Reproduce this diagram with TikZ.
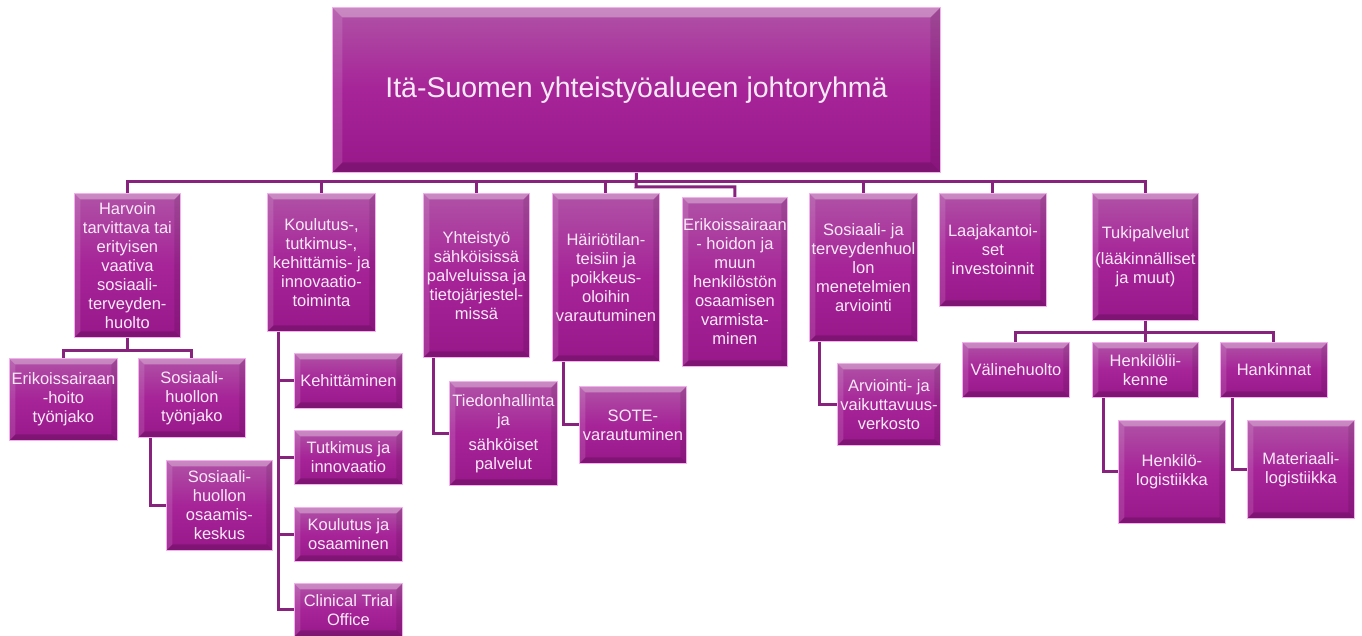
\documentclass[tikz,border=0pt]{standalone}
\usepackage{fontspec}
\setmainfont{Liberation Sans}
\definecolor{boxtop}{RGB}{176,82,166}
\definecolor{boxmid}{RGB}{166,36,152}
\definecolor{boxbot}{RGB}{152,24,138}
\definecolor{connc}{RGB}{135,35,125}
\definecolor{txtc}{RGB}{250,234,248}
\definecolor{edgec}{RGB}{244,176,238}
\tikzset{
  bevel/.store in=\bevelw, bevel=6pt,
  orgbox/.style={rectangle, inner xsep=0pt, inner ysep=2pt, top color=boxtop, bottom color=boxbot, middle color=boxmid,
    draw=edgec, line width=0.9pt, text=txtc, align=center, anchor=north west,
    font=\fontsize{16.5}{19}\selectfont,
    path picture={
      \coordinate (pNW) at (path picture bounding box.north west);
      \coordinate (pNE) at (path picture bounding box.north east);
      \coordinate (pSW) at (path picture bounding box.south west);
      \coordinate (pSE) at (path picture bounding box.south east);
      \fill[white,opacity=.32] (pNW) -- (pNE) -- ([shift={(-\bevelw,-\bevelw)}]pNE) -- ([shift={(\bevelw,-\bevelw)}]pNW) -- cycle;
      \fill[white,opacity=.12] (pNW) -- ([shift={(\bevelw,-\bevelw)}]pNW) -- ([shift={(\bevelw,\bevelw)}]pSW) -- (pSW) -- cycle;
      \fill[black,opacity=.10] (pNE) -- (pSE) -- ([shift={(-\bevelw,\bevelw)}]pSE) -- ([shift={(-\bevelw,-\bevelw)}]pNE) -- cycle;
      \fill[black,opacity=.16] (pSW) -- (pSE) -- ([shift={(-\bevelw,\bevelw)}]pSE) -- ([shift={(\bevelw,\bevelw)}]pSW) -- cycle;
    }},
  conn/.style={draw=connc, line width=3pt}
}
\newcommand{\bx}[6]{\node[orgbox, minimum width=#3pt, minimum height=#4pt] (#5) at (#1,#2) {#6};}
\begin{document}
\begin{tikzpicture}[x=1pt,y=-1pt]
\fill[white] (0,0) rectangle (1362,636);
\useasboundingbox (0,0) rectangle (1362,636);

\coordinate (bus) at (636,182);
\coordinate (busE) at (636,187);

% top
\node[orgbox, bevel=10pt, minimum width=608pt, minimum height=165pt, font=\fontsize{28.5}{32}\selectfont] (top) at (332,7) {Itä-Suomen yhteistyöalueen johtoryhmä};

% level 1
\bx{74}{193}{106}{144}{n1}{Harvoin\\tarvittava tai\\erityisen\\vaativa\\sosiaali-\\terveyden-\\huolto}
\bx{267}{193}{108}{138}{n2}{Koulutus-,\\tutkimus-,\\kehittämis- ja\\innovaatio-\\toiminta}
\bx{423}{193}{106}{164}{n3}{Yhteistyö\\sähköisissä\\palveluissa ja\\tietojärjestel-\\missä}
\bx{552}{193}{107}{168}{n4}{Häiriötilan-\\teisiin ja\\poikkeus-\\oloihin\\varautuminen}
\bx{682}{197}{105}{169}{n5}{Erikoissairaan\\- hoidon ja\\muun\\henkilöstön\\osaamisen\\varmista-\\minen}
\bx{809}{193}{108}{148}{n6}{Sosiaali- ja\\terveydenhuol\\lon\\menetelmien\\arviointi}
\bx{939}{193}{107}{113}{n7}{Laajakantoi-\\set\\investoinnit}
\bx{1092}{193}{106}{127}{n8}{Tukipalvelut\\[7pt](lääkinnälliset\\ja muut)}

% level 2
\bx{9}{358}{108}{82}{e1}{Erikoissairaan\\-hoito\\työnjako}
\bx{138}{358}{107}{79}{s2}{Sosiaali-\\huollon\\työnjako}
\bx{166}{460}{106}{90}{s3}{Sosiaali-\\huollon\\osaamis-\\keskus}

\bx{294}{353}{108}{55}{k1}{Kehittäminen}
\bx{294}{430}{108}{54}{k2}{Tutkimus ja\\innovaatio}
\bx{294}{507}{108}{54}{k3}{Koulutus ja\\osaaminen}
\bx{294}{583}{108}{53}{k4}{Clinical Trial\\Office}

\bx{449}{381}{108}{104}{y1}{Tiedonhallinta\\ja\\[6pt]sähköiset\\palvelut}
\bx{579}{386}{107}{77}{h1}{SOTE-\\varautuminen}
\bx{837}{363}{103}{82}{a1}{Arviointi- ja\\vaikuttavuus-\\verkosto}

\bx{962}{342}{107}{55}{t1}{Välinehuolto}
\bx{1092}{342}{106}{55}{t2}{Henkilölii-\\kenne}
\bx{1220}{342}{107}{55}{t3}{Hankinnat}
\bx{1118}{420}{107}{103}{t4}{Henkilö-\\logistiikka}
\bx{1247}{420}{107}{98}{t5}{Materiaali-\\logistiikka}

% connectors
\draw[conn] (top.south) -- (busE) -| (n5.north);
\foreach \n in {n1,n2,n3,n4,n6,n7,n8}{\draw[conn] (bus) -| (\n.north);}
\draw[conn] (n1.south) -- ++(0,13) -| (e1.north);
\draw[conn] (n1.south) -- ++(0,13) -| (s2.north);
\draw[conn] ([xshift=12pt]s2.south west) |- (s3.west);
\foreach \k in {k1,k2,k3,k4}{\draw[conn] ([xshift=11pt]n2.south west) |- (\k.west);}
\draw[conn] ([xshift=10pt]n3.south west) |- (y1.west);
\draw[conn] ([xshift=11pt]n4.south west) |- (h1.west);
\draw[conn] ([xshift=10pt]n6.south west) |- (a1.west);
\foreach \t in {t1,t2,t3}{\draw[conn] (n8.south) -- ++(0,12) -| (\t.north);}
\draw[conn] ([xshift=11pt]t2.south west) |- (t4.west);
\draw[conn] ([xshift=12pt]t3.south west) |- (t5.west);
\end{tikzpicture}
\end{document}
